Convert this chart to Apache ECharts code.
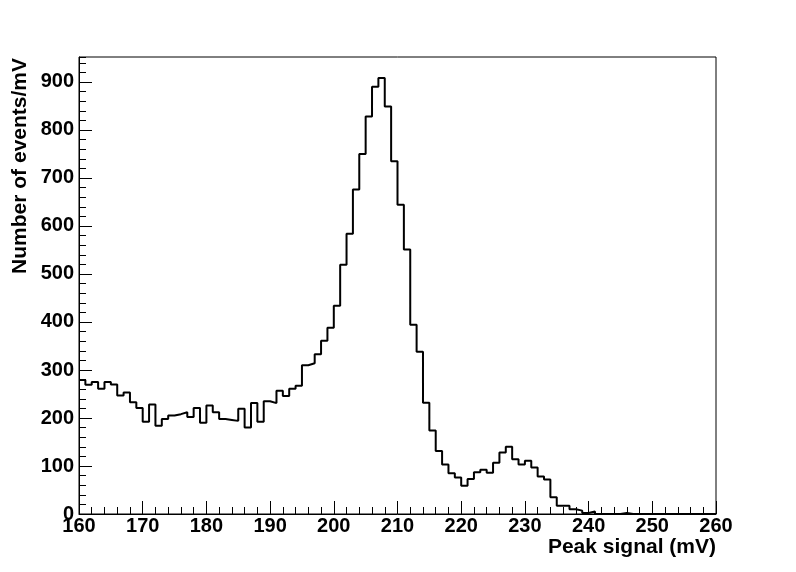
<!DOCTYPE html>
<html>
<head>
<meta charset="utf-8">
<script src="https://cdn.jsdelivr.net/npm/echarts@6/dist/echarts.min.js"></script>
<style>
html,body{margin:0;padding:0;background:#fff;}
#chart{width:796px;height:572px;}
</style>
</head>
<body>
<div id="chart"></div>
<script>
// Bin edges (mV), 1 mV bins from 160 to 260
const binEdges = [160,161,162,163,164,165,166,167,168,169,170,171,172,173,174,175,176,177,178,179,
180,181,182,183,184,185,186,187,188,189,190,191,192,193,194,195,196,197,198,199,
200,201,202,203,204,205,206,207,208,209,210,211,212,213,214,215,216,217,218,219,
220,221,222,223,224,225,226,227,228,229,230,231,232,233,234,235,236,237,238,239,
240,241,242,243,244,245,246,247,248,249,250,251,252,253,254,255,256,257,258,259,260];
// Number of events per mV in each bin
const counts = [279,269,275,261,275,270,247,253,233,221,
192,228,184,198,205,208,212,202,221,190,
226,212,198,196,194,219,180,231,192,235,
231,257,246,261,267,310,314,333,361,388,
434,519,584,676,750,828,890,908,849,735,
644,551,394,338,232,174,131,103,85,76,
59,73,87,92,86,107,128,140,114,103,
111,97,78,72,35,17,17,10,7,2,
5,0,0,0,0,2,0,0,0,0,
0,0,0,0,0,0,0,0,0,0];
const xTicks = [160,170,180,190,200,210,220,230,240,250,260];
const yTicks = [0,100,200,300,400,500,600,700,800,900];
const xRange = [160, 260];
const yRange = [0, 952];
const xTitle = 'Peak signal (mV)';
const yTitle = 'Number of events/mV';

const histData = counts.map((c, i) => [binEdges[i], c]);
histData.push([binEdges[binEdges.length - 1], counts[counts.length - 1]]);

const FONT = 'Liberation Sans, Arial, Helvetica, sans-serif';
const chart = echarts.init(document.getElementById('chart'), null, {renderer: 'canvas'});
const labelStyle = {color: '#000', fontFamily: FONT, fontWeight: 'bold', fontSize: 20};

chart.setOption({
  animation: false,
  backgroundColor: '#fff',
  grid: {left: 79, right: 80, top: 57, bottom: 58, containLabel: false, show: true,
         borderColor: '#000', borderWidth: 1, backgroundColor: 'transparent'},
  xAxis: [{
    type: 'value', position: 'bottom', min: xRange[0], max: xRange[1], interval: xTicks[1] - xTicks[0],
    axisLine: {show: true, onZero: false, lineStyle: {color: '#000', width: 1}},
    axisTick: {show: true, inside: true, length: 13, lineStyle: {color: '#000', width: 1}},
    axisLabel: Object.assign({margin: 2, showMinLabel: true, showMaxLabel: true,
      formatter: v => (xTicks.indexOf(v) >= 0 ? String(v) : '')}, labelStyle),
    splitLine: {show: false},
    name: xTitle, nameLocation: 'end', nameGap: 0, nameMoveOverlap: false,
    nameTextStyle: {color: '#000', fontFamily: FONT, fontWeight: 'bold', fontSize: 21,
      align: 'right', verticalAlign: 'top', padding: [23, 0, 0, 0]}
  }, {
    type: 'value', position: 'bottom', offset: 0, min: xRange[0], max: xRange[1], interval: 2,
    axisLine: {show: false},
    axisTick: {show: true, inside: true, length: 7, lineStyle: {color: '#000', width: 1}},
    axisLabel: {show: false}, splitLine: {show: false}
  }],
  yAxis: [{
    type: 'value', position: 'left', min: yRange[0], max: yRange[1], interval: yTicks[1] - yTicks[0],
    axisLine: {show: true, onZero: false, lineStyle: {color: '#000', width: 1}},
    axisTick: {show: true, inside: true, length: 13, lineStyle: {color: '#000', width: 1}},
    axisLabel: Object.assign({margin: 5, showMaxLabel: false,
      formatter: v => (yTicks.indexOf(v) >= 0 ? String(v) : '')}, labelStyle),
    splitLine: {show: false}
  }, {
    type: 'value', position: 'left', offset: 0, min: yRange[0], max: yRange[1], interval: 20,
    axisLine: {show: false},
    axisTick: {show: true, inside: true, length: 7, lineStyle: {color: '#000', width: 1}},
    axisLabel: {show: false}, splitLine: {show: false}
  }],
  graphic: [{
    type: 'text', x: 20, y: 58, rotation: Math.PI / 2,
    style: {text: yTitle, fill: '#000', fontFamily: FONT, fontWeight: 'bold', fontSize: 21,
      align: 'right', verticalAlign: 'middle'}
  }],
  series: [{
    type: 'line', xAxisIndex: 0, yAxisIndex: 0, step: 'end', showSymbol: false, symbol: 'none',
    data: histData, clip: true,
    lineStyle: {color: '#000', width: 2}
  }]
});
</script>
</body>
</html>
